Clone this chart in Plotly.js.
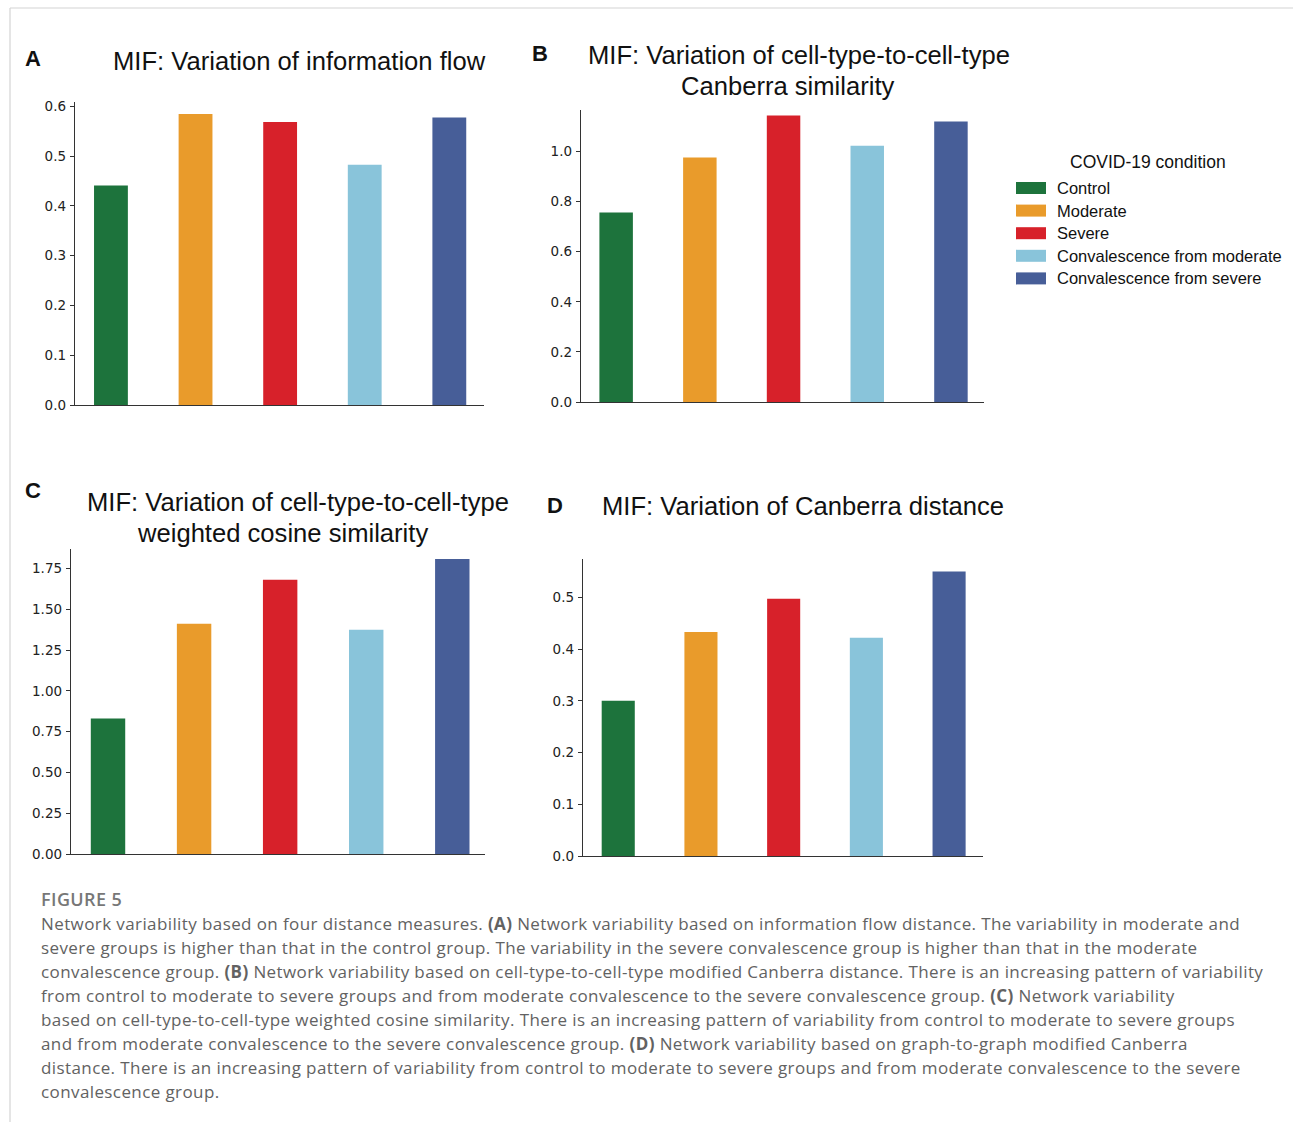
<!DOCTYPE html>
<html>
<head>
<meta charset="utf-8">
<script src="https://cdn.plot.ly/plotly-3.0.1.min.js"></script>
<style>
html,body{margin:0;padding:0;background:#fff;}
#chart{width:1293px;height:1122px;}
text.annotation-text[style*="Open Sans"]{letter-spacing:0.4px;}
</style>
</head>
<body>
<div id="chart"></div>
<script>
// ---- data ----
const categories = ["Control", "Moderate", "Severe", "Convalescence from moderate", "Convalescence from severe"];
const colors = ["#1d733c", "#e99b2b", "#d7212a", "#89c4da", "#475e98"];
const valuesA = [0.441, 0.585, 0.569, 0.483, 0.578];
const valuesB = [0.757, 0.976, 1.144, 1.023, 1.120];
const valuesC = [0.831, 1.413, 1.683, 1.376, 1.810];
const valuesD = [0.300, 0.433, 0.497, 0.422, 0.550];
const titleA = ["MIF: Variation of information flow"];
const titleB = ["MIF: Variation of cell-type-to-cell-type", "Canberra similarity"];
const titleC = ["MIF: Variation of cell-type-to-cell-type", "weighted cosine similarity"];
const titleD = ["MIF: Variation of Canberra distance"];
const legendTitle = "COVID-19 condition";
const captionHead = "FIGURE 5";
const captionLines = [
 "Network variability based on four distance measures. <b>(A)</b> Network variability based on information flow distance. The variability in moderate and",
 "severe groups is higher than that in the control group. The variability in the severe convalescence group is higher than that in the moderate",
 "convalescence group. <b>(B)</b> Network variability based on cell-type-to-cell-type modified Canberra distance. There is an increasing pattern of variability",
 "from control to moderate to severe groups and from moderate convalescence to the severe convalescence group. <b>(C)</b> Network variability",
 "based on cell-type-to-cell-type weighted cosine similarity. There is an increasing pattern of variability from control to moderate to severe groups",
 "and from moderate convalescence to the severe convalescence group. <b>(D)</b> Network variability based on graph-to-graph modified Canberra",
 "distance. There is an increasing pattern of variability from control to moderate to severe groups and from moderate convalescence to the severe",
 "convalescence group."
];

// ---- layout helpers ----
const W = 1293, H = 1122;
const px = x => x / W;
const py = y => 1 - y / H;

const panels = [
  {vals: valuesA, title: titleA, letter: "A", x0: 75, x1: 484, yTop: 102, yBot: 405, ymax: 0.609, xr: [-0.425, 4.41], dtick: 0.1, fmt: ".1f",
   titleX: [299], titleY: [61], letterX: 33, letterY: 58},
  {vals: valuesB, title: titleB, letter: "B", x0: 581, x1: 984, yTop: 110, yBot: 402, ymax: 1.166, xr: [-0.42, 4.395], dtick: 0.2, fmt: ".1f",
   titleX: [799, 788], titleY: [55, 86], letterX: 540, letterY: 53},
  {vals: valuesC, title: titleC, letter: "C", x0: 71, x1: 485, yTop: 549, yBot: 854, ymax: 1.871, xr: [-0.43, 4.38], dtick: 0.25, fmt: ".2f",
   titleX: [298, 282], titleY: [502, 533], letterX: 33, letterY: 490},
  {vals: valuesD, title: titleD, letter: "D", x0: 583, x1: 983, yTop: 559, yBot: 856, ymax: 0.574, xr: [-0.426, 4.41], dtick: 0.1, fmt: ".1f",
   titleX: [803], titleY: [506], letterX: 555, letterY: 505}
];

const data = [];
const layout = {
  width: W, height: H,
  margin: {l: 0, r: 0, t: 0, b: 0},
  paper_bgcolor: "#ffffff", plot_bgcolor: "#ffffff",
  showlegend: false,
  annotations: [],
  shapes: []
};

const titleFont = {family: "Liberation Sans, Arial, sans-serif", size: 25.6, color: "#111"};
const letterFont = {family: "Liberation Sans, Arial, sans-serif", size: 22, color: "#111", weight: 700};

panels.forEach((p, i) => {
  const n = i + 1;
  const xa = n === 1 ? "x" : "x" + n;
  const ya = n === 1 ? "y" : "y" + n;
  data.push({
    type: "bar",
    x: categories,
    y: p.vals,
    xaxis: xa, yaxis: ya,
    width: 0.4,
    marker: {color: colors, line: {width: 0}},
    hoverinfo: "x+y"
  });
  const xk = n === 1 ? "xaxis" : "xaxis" + n;
  const yk = n === 1 ? "yaxis" : "yaxis" + n;
  layout[xk] = {
    domain: [px(p.x0), px(p.x1)],
    anchor: ya,
    type: "category",
    range: p.xr,
    showticklabels: false,
    ticks: "",
    showgrid: false,
    zeroline: false,
    showline: true, linecolor: "#333", linewidth: 1.2,
    fixedrange: true
  };
  layout[yk] = {
    domain: [py(p.yBot), py(p.yTop)],
    anchor: xa,
    range: [0, p.ymax],
    dtick: p.dtick, tick0: 0,
    tickformat: p.fmt,
    ticks: "outside", ticklen: 4, tickwidth: 1, tickcolor: "#333",
    tickfont: {family: "DejaVu Sans, sans-serif", size: 13.5, color: "#222"},
    ticklabelstandoff: 1,
    showgrid: false, zeroline: false,
    showline: true, linecolor: "#333", linewidth: 1.2,
    fixedrange: true
  };
  p.title.forEach((t, k) => {
    layout.annotations.push({
      xref: "paper", yref: "paper", x: px(p.titleX[k]), y: py(p.titleY[k]),
      xanchor: "center", yanchor: "middle", showarrow: false,
      text: t, font: titleFont
    });
  });
  layout.annotations.push({
    xref: "paper", yref: "paper", x: px(p.letterX), y: py(p.letterY),
    xanchor: "center", yanchor: "middle", showarrow: false,
    text: "<b>" + p.letter + "</b>", font: letterFont
  });
});

// ---- legend (drawn from categories/colors) ----
layout.annotations.push({
  xref: "paper", yref: "paper", x: px(1148), y: py(162),
  xanchor: "center", yanchor: "middle", showarrow: false,
  text: legendTitle, font: {family: "Liberation Sans, Arial, sans-serif", size: 17.5, color: "#111"}
});
categories.forEach((c, i) => {
  const yc = 188 + i * 22.6;
  layout.shapes.push({
    type: "rect", xref: "paper", yref: "paper",
    x0: px(1016), x1: px(1046), y0: py(yc + 6), y1: py(yc - 6),
    fillcolor: colors[i], line: {width: 0}
  });
  layout.annotations.push({
    xref: "paper", yref: "paper", x: px(1055), y: py(yc),
    xanchor: "left", yanchor: "middle", showarrow: false,
    text: c, font: {family: "Liberation Sans, Arial, sans-serif", size: 16.5, color: "#111"}
  });
});

// ---- page border ----
layout.shapes.push({type: "line", xref: "paper", yref: "paper", x0: px(10), x1: px(10), y0: py(8), y1: py(1122), line: {color: "#d4d4d4", width: 1.2}});
layout.shapes.push({type: "line", xref: "paper", yref: "paper", x0: px(10), x1: px(1293), y0: py(8), y1: py(8), line: {color: "#d4d4d4", width: 1.2}});

// ---- caption ----
layout.annotations.push({
  xref: "paper", yref: "paper", x: px(39), y: py(899),
  xanchor: "left", yanchor: "middle", showarrow: false,
  text: captionHead, font: {family: "Open Sans, sans-serif", size: 18, color: "#777777", weight: 600}
});
captionLines.forEach((t, i) => {
  layout.annotations.push({
    xref: "paper", yref: "paper", x: px(39), y: py(923 + i * 24),
    xanchor: "left", yanchor: "middle", showarrow: false, align: "left",
    text: t, font: {family: "Open Sans, sans-serif", size: 17, color: "#626262"}
  });
});

Plotly.newPlot("chart", data, layout, {displayModeBar: false, staticPlot: true});
</script>
</body>
</html>
